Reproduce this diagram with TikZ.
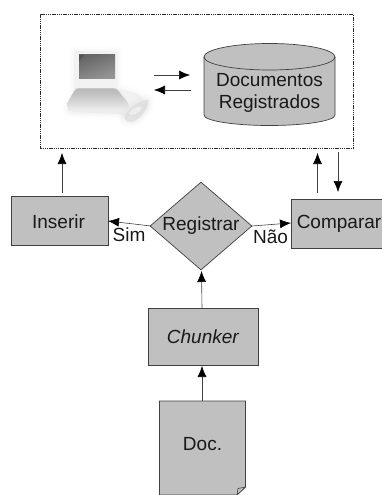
\documentclass[tikz,border=0pt]{standalone}
\usepackage{fontspec}
\setmainfont{Liberation Sans}
\usetikzlibrary{arrows.meta,shapes.geometric,calc}
\definecolor{boxgray}{HTML}{C0C0C0}
\definecolor{edgegray}{HTML}{404040}
\tikzset{
  x=1pt,y=-1pt,
  lbl/.style={font=\fontsize{19}{22}\selectfont,text=black!90,inner sep=0pt},
  fillbox/.style={draw=edgegray,line width=0.7pt,fill=boxgray,inner sep=0pt,anchor=north west},
  conn/.style={draw=black!75,line width=0.6pt,-{Latex[length=11pt,width=9pt,black]}},
}
\newcommand{\softblob}[2]{%
  \foreach \w/\o in {12/0.04,9/0.05,6/0.07,3/0.09}{\fill[#1,draw=#1,line width=\w pt,opacity=\o,line join=round] #2;}%
  \fill[#1,opacity=0.6] #2;}
\begin{document}
\begin{tikzpicture}
\useasboundingbox (0,0) rectangle (382,495);
% store box
\node[draw=black!85,dash pattern=on 1.4pt off 0.8pt,line width=0.6pt,fill=white,minimum width=312.5pt,minimum height=134pt,inner sep=0pt,anchor=north west] (store) at (40,14) {};
% laptop
\softblob{black!7}{(72,112) .. controls (90,100) and (105,88) .. (122,90) .. controls (140,92) and (146,100) .. (146,108) .. controls (140,116) and (128,118) .. (118,114) -- cycle}
\softblob{black!12}{(76,91) -- (114,91) -- (126,110) -- (68,110) -- cycle}
\shade[top color=black!30,bottom color=black!6,rounded corners=3pt] (76,88) -- (116,88) -- (129,104) -- (128,111) -- (70,111) -- (66,105) -- cycle;
\softblob{black!9}{(74,52) -- (117,52) -- (117,87) -- (74,87) -- cycle}
\fill[black!5,rounded corners=3pt] (74,51) rectangle (118,88);
\shade[left color=black!60,right color=black!42,shading angle=20] (79,55) rectangle (115,78);
\fill[black!68] (79,55) -- (84,55) -- (79,61) -- cycle;
\softblob{black!14}{(127,113) .. controls (132,106) and (142,100) .. (148,100) .. controls (150,106) and (140,120) .. (132,122) .. controls (124,122) and (123,117) .. (127,113) -- cycle}
\fill[black!5,opacity=0.8] (129,113) .. controls (133,108) and (138,106) .. (142,107) .. controls (142,110) and (136,115) .. (131,115) -- cycle;
% cylinder
\node[inner sep=0pt,minimum width=131pt,minimum height=82pt] (db) at (269.5,84) {};
\draw[edgegray,line width=0.7pt,fill=boxgray] (204,57) arc[x radius=65.5pt,y radius=13.5pt,start angle=180,end angle=0]
  -- (335,115) arc[x radius=65.5pt,y radius=10.5pt,start angle=0,end angle=-180] -- cycle;
\draw[edgegray,line width=0.7pt] (204,57) arc[x radius=65.5pt,y radius=13pt,start angle=180,end angle=360];
\node[lbl,align=center] (dbl) at (269.5,92.5) {Documentos\\Registrados};
% boxes
\node[fillbox,minimum width=97pt,minimum height=49pt] (ins) at (11,196) {};
\node[lbl] at (58.5,222) {Inserir};
\node[fillbox,minimum width=95pt,minimum height=49pt] (cmp) at (291,199) {};
\node[lbl] at (339,224) {Comparar};
\node[draw=edgegray,line width=0.7pt,fill=boxgray,diamond,inner sep=0pt,minimum width=102pt,minimum height=88pt,aspect=1.16] (reg) at (201,226) {};
\node[lbl] at (201,226) {Registrar};
\node[fillbox,minimum width=110pt,minimum height=57pt] (chk) at (147.5,308) {};
\node[lbl,font=\fontsize{19}{22}\itshape] at (chk.center) {Chunker};
\draw[edgegray,line width=0.7pt,fill=boxgray] (159.5,401) -- (245.5,401) -- (245.5,487) -- (237,495) -- (159.5,495) -- cycle;
\draw[edgegray,line width=0.6pt,fill=black!25] (245.5,487) -- (237,495) -- (238,488.5) -- cycle;
\node[inner sep=0pt,minimum width=86pt,minimum height=94pt] (doc) at (202.5,448) {};
\node[lbl] at (202.5,444) {Doc.};
\node[lbl] at (129,235) {Sim};
\node[lbl] at (270.5,237) {Não};
% coordinates
\coordinate (insUp) at (62,193);
\coordinate (insTop) at (62,153);
\coordinate (cmpUp) at (317.5,193);
\coordinate (cmpTop) at (317.5,153);
\coordinate (cmpDown) at (338,192);
\coordinate (storeDown) at (338,152);
\coordinate (laptopA) at (154,75);
\coordinate (dbA) at (190,75);
\coordinate (laptopB) at (154,90);
\coordinate (dbB) at (191,90);
\coordinate (regW) at (151,226);
\coordinate (insE) at (108,221);
\coordinate (regE) at (252,226);
\coordinate (cmpW) at (291,223);
\coordinate (docTop) at (202,401);
\coordinate (chkBot) at (202,366);
\coordinate (chkTop) at (202,308);
\coordinate (regBot) at (201.5,271);
% connectors
\draw[conn] (insUp) -- (insTop);
\draw[conn] (cmpUp) -- (cmpTop);
\draw[conn] (storeDown) -- (cmpDown);
\draw[conn] (laptopA) -- (dbA);
\draw[conn] (dbB) -- (laptopB);
\draw[conn] (regW) -- (insE);
\draw[conn] (regE) -- (cmpW);
\draw[conn] (docTop) -- (chkBot);
\draw[conn] (chkTop) -- (regBot);
\end{tikzpicture}
\end{document}
